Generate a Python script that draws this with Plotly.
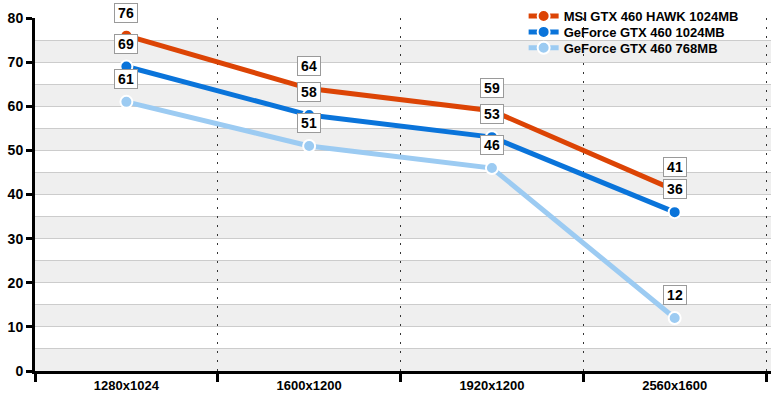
import plotly.graph_objects as go

categories = ["1280x1024", "1600x1200", "1920x1200", "2560x1600"]
series_names = ["MSI GTX 460 HAWK 1024MB", "GeForce GTX 460 1024MB", "GeForce GTX 460 768MB"]
hawk = [76, 64, 59, 41]
gtx1024 = [69, 58, 53, 36]
gtx768 = [61, 51, 46, 12]
colors = ["#DC4405", "#0A74DA", "#9CCBF2"]
band_starts = [0, 10, 20, 30, 40, 50, 60, 70]
legend_ids = ["legend", "legend2", "legend3"]
legend_y = [1.0057, 0.9605, 0.9155]

FONT = "Arial, Liberation Sans, sans-serif"
fig = go.Figure()

for name, vals, col, lid in zip(series_names, [hawk, gtx1024, gtx768], colors, legend_ids):
    fig.add_trace(go.Scatter(
        x=categories, y=vals, name=name, mode="lines+markers",
        line=dict(color=col, width=5),
        marker=dict(size=12, color=col, line=dict(color="white", width=2)),
        cliponaxis=False, legend=lid,
    ))
    for c, v in zip(categories, vals):
        fig.add_annotation(
            x=c, y=v, xref="x", yref="y", text="<b>%d</b>" % v, showarrow=False,
            yshift=23, font=dict(family=FONT, size=14, color="black"),
            bgcolor="white", bordercolor="#9A9A9A", borderwidth=1, borderpad=1,
            width=20,
        )

for b in band_starts:
    fig.add_shape(type="rect", xref="paper", yref="y", x0=0, x1=1, y0=b, y1=b + 5,
                  fillcolor="#EFEFEF", line=dict(width=0), layer="below")

legend_common = dict(x=0.6639, xanchor="left", yanchor="middle",
                     bgcolor="rgba(0,0,0,0)",
                     font=dict(family=FONT, size=13, color="black", weight="bold"),
                     itemwidth=30)

fig.update_layout(
    width=771, height=399,
    margin=dict(l=35, r=0, t=18, b=28, autoexpand=False),
    paper_bgcolor="white", plot_bgcolor="white",
    font=dict(family=FONT, color="black"),
    showlegend=True,
    legend=dict(y=legend_y[0], **legend_common),
    legend2=dict(y=legend_y[1], **legend_common),
    legend3=dict(y=legend_y[2], **legend_common),
)
fig.update_xaxes(
    type="category", tickson="boundaries", range=[-0.5, 3.527], automargin=False,
    showgrid=True, gridcolor="#333333", griddash="2px,7px", gridwidth=1,
    showline=True, linecolor="black", linewidth=3,
    ticks="outside", ticklen=8, tickwidth=3, tickcolor="black",
    tickfont=dict(family=FONT, size=13, color="black", weight="bold"),
)
fig.update_yaxes(
    range=[0, 80], dtick=10, showgrid=True, gridcolor="#CCCCCC", gridwidth=1,
    automargin=False,
    minor=dict(dtick=5, showgrid=True, gridcolor="#CCCCCC", gridwidth=1),
    showline=True, linecolor="black", linewidth=3, zeroline=False,
    ticks="outside", ticklen=6, tickwidth=3, tickcolor="black",
    tickfont=dict(family=FONT, size=14, color="black", weight="bold"),
)

fig.write_html("out.html", config={"displayModeBar": False},
               post_script="document.body.style.margin='0px';")
